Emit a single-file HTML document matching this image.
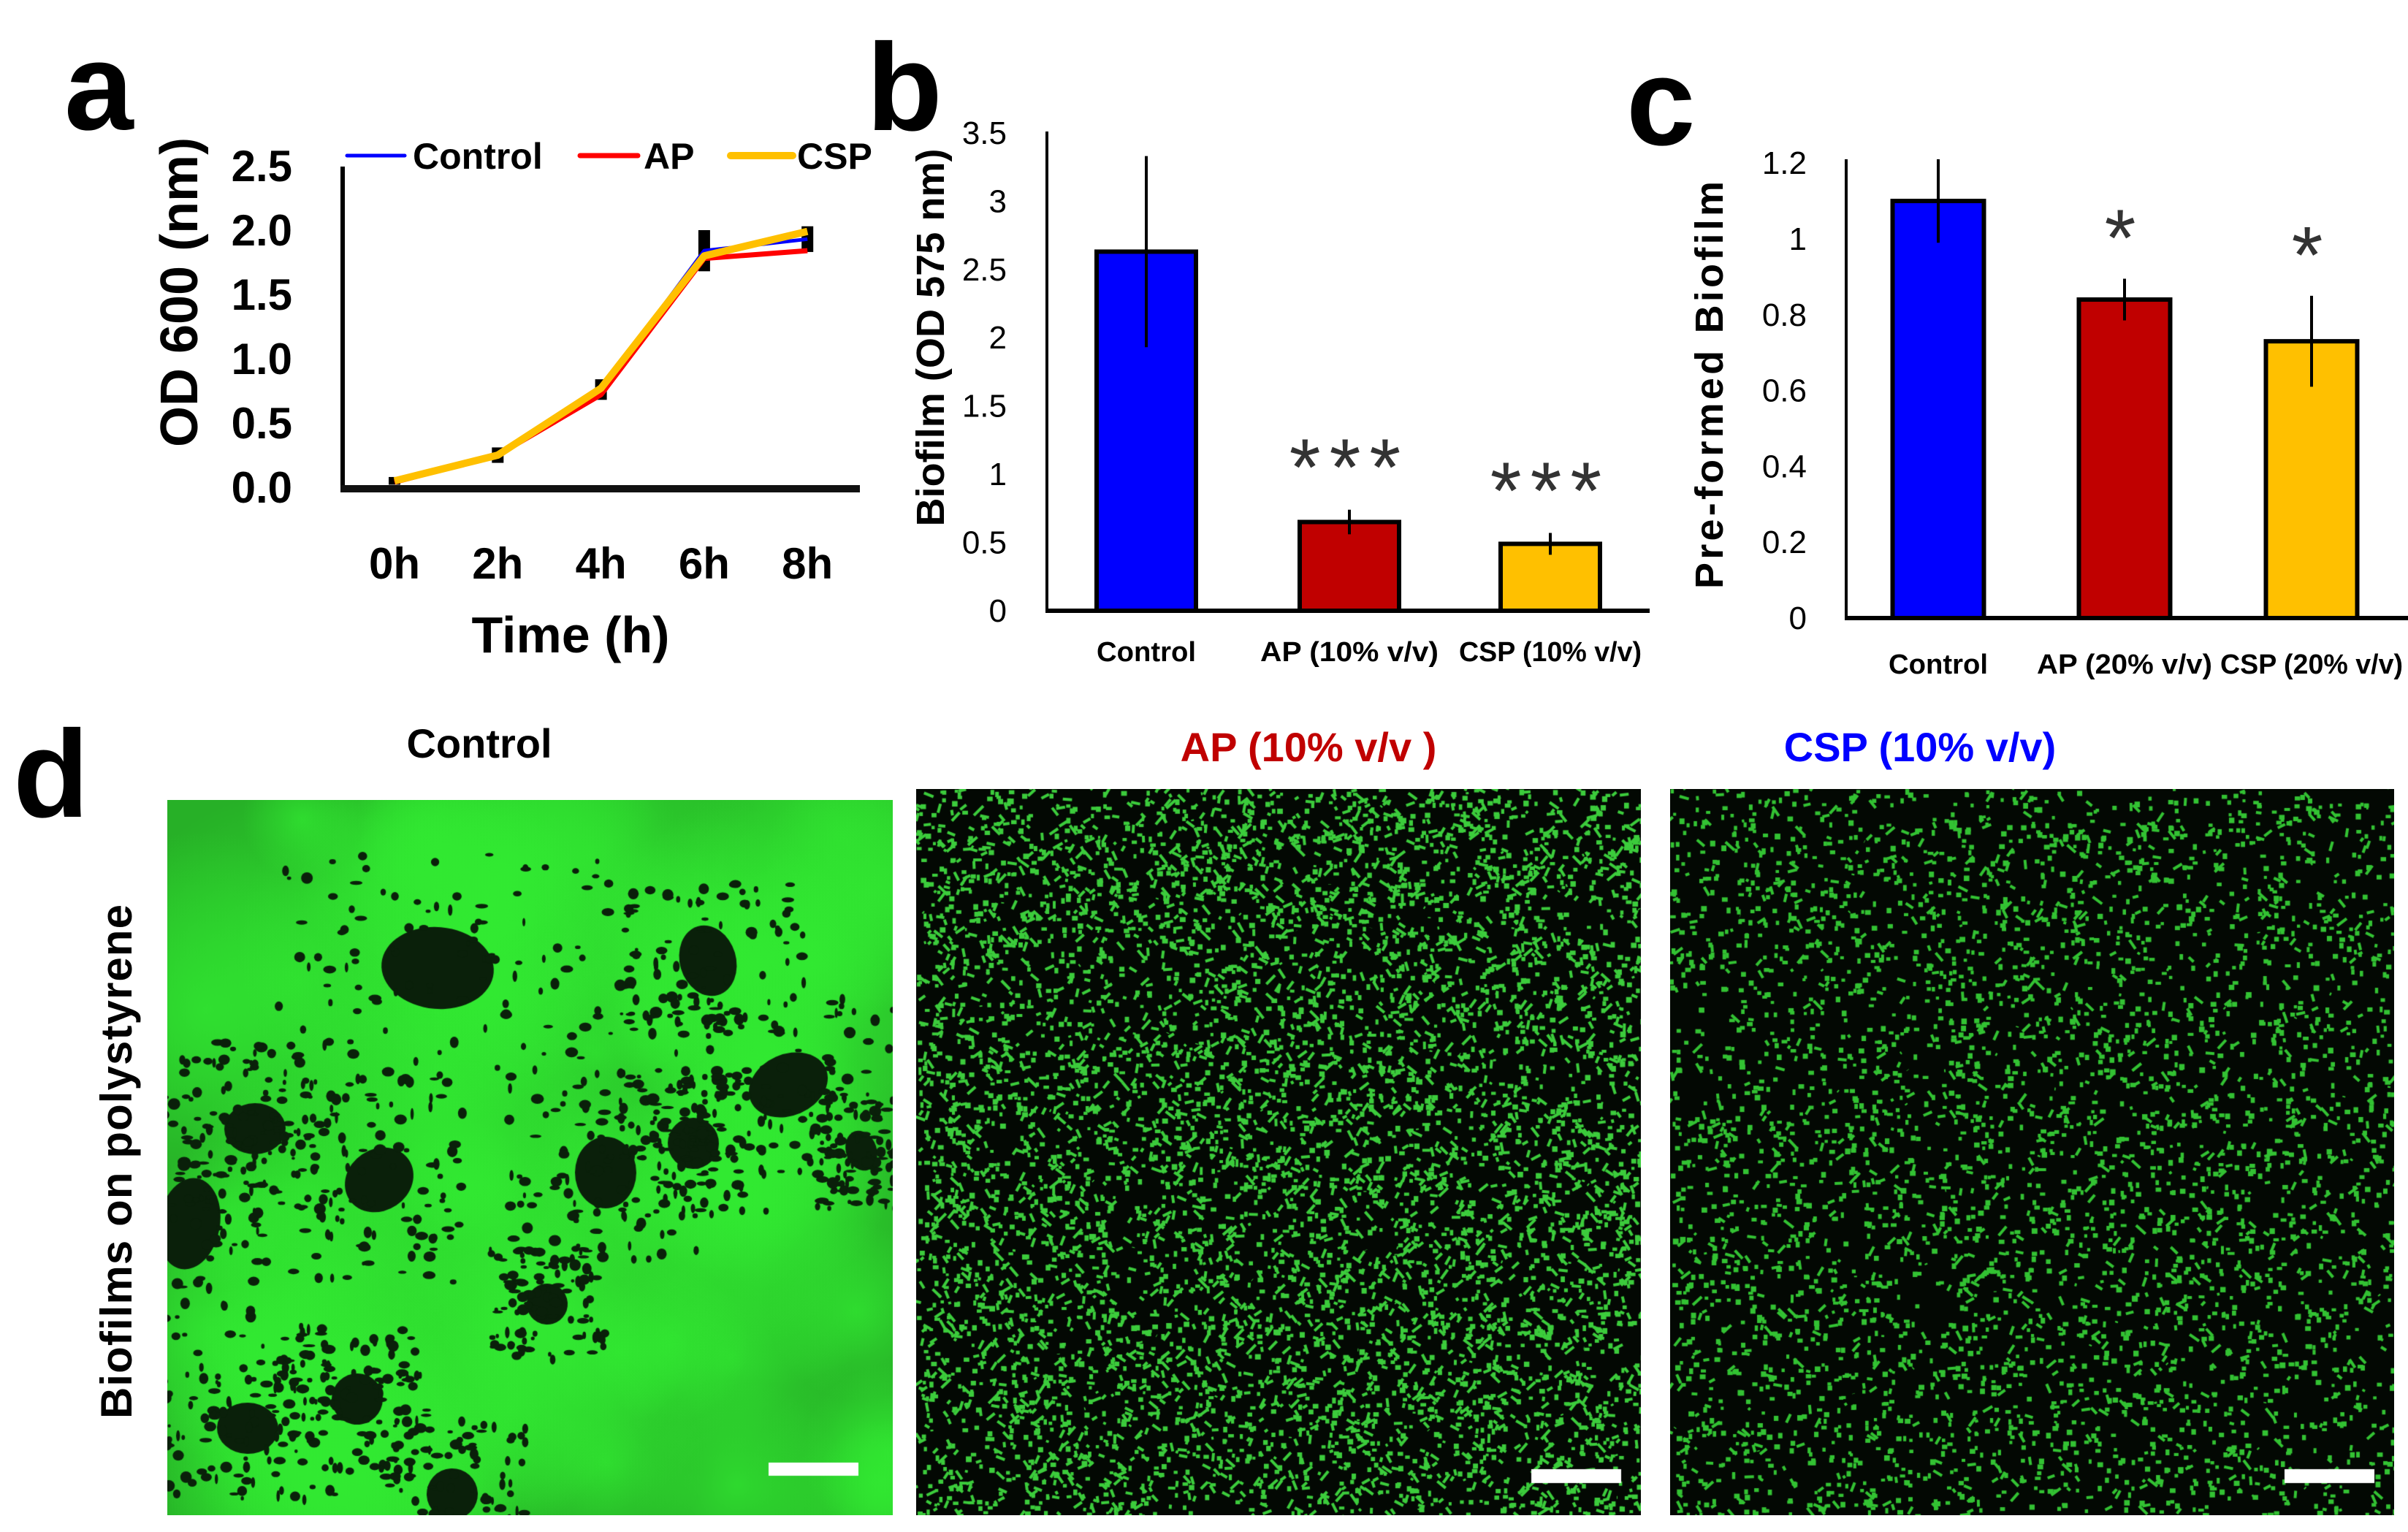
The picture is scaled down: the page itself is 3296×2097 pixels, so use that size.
<!DOCTYPE html>
<html><head><meta charset="utf-8">
<style>
html,body{margin:0;padding:0;background:#fff;}
#root{position:relative;width:3296px;height:2097px;overflow:hidden;background:#fff;font-family:"Liberation Sans",sans-serif;}
svg{position:absolute;left:0;top:0;}
canvas{position:absolute;}
</style></head>
<body>
<div id="root">
<canvas id="imgControl" style="left:229px;top:1095px" width="993" height="979"></canvas>
<canvas id="imgAP" style="left:1254px;top:1080px" width="992" height="994"></canvas>
<canvas id="imgCSP" style="left:2286px;top:1080px" width="991" height="994"></canvas>
<svg id="svg" width="3296" height="2097" font-family="Liberation Sans, sans-serif">
  <text x="88" y="177" font-size="170" font-weight="bold">a</text>
  <text x="1186" y="178" font-size="170" font-weight="bold">b</text>
  <text x="2226" y="198" font-size="170" font-weight="bold">c</text>
  <text x="18" y="1118" font-size="170" font-weight="bold">d</text>
  <text x="656" y="1037" font-size="56" font-weight="bold" text-anchor="middle">Control</text>
  <text x="1791" y="1042" font-size="56" font-weight="bold" text-anchor="middle" fill="#c00000">AP (10% v/v )</text>
  <text x="2628" y="1042" font-size="56" font-weight="bold" text-anchor="middle" fill="#0000ff">CSP (10% v/v)</text>
  <text transform="translate(180,1590) rotate(-90)" font-size="60" font-weight="bold" text-anchor="middle" textLength="704">Biofilms on polystyrene</text>
  <g id="gA"></g><g id="gB"></g><g id="gC"></g>
</svg>
</div>
<script>
// ---- Chart a data ----
const timeLabels = ["0h","2h","4h","6h","8h"];
const controlOD = [0.05,0.25,0.76,1.84,1.93];
const apOD = [0.04,0.25,0.72,1.78,1.84];
const cspOD = [0.05,0.25,0.77,1.80,1.99];
const odErr = [0.03,0.06,0.08,0.16,0.1];
const aTicks = [0,0.5,1.0,1.5,2.0,2.5];
// ---- Chart b data ----
const bCats = ["Control","AP  (10% v/v)","CSP  (10% v/v)"];
const bVals = [2.63,0.65,0.49];
const bErr = [0.7,0.09,0.08];
const bStars = ["","***","***"];
const bTicks = [0,0.5,1,1.5,2,2.5,3,3.5];
// ---- Chart c data ----
const cCats = ["Control","AP (20% v/v)","CSP (20% v/v)"];
const cVals = [1.10,0.84,0.73];
const cErr = [0.11,0.055,0.12];
const cStars = ["","*","*"];
const cTicks = [0,0.2,0.4,0.6,0.8,1,1.2];
const barColors = ["#0000ff","#c00000","#ffc000"];

const NS="http://www.w3.org/2000/svg";
function mk(parent,tag,attrs,text){const e=document.createElementNS(NS,tag);for(const k in attrs)e.setAttribute(k,attrs[k]);if(text!==undefined)e.textContent=text;parent.appendChild(e);return e;}

// Chart a
(function(){
  const g=document.getElementById('gA');
  const x=i=>540+i*141.3, y=v=>667-v*176;
  let e;
  e=mk(g,'line',{x1:469,y1:228,x2:469,y2:y(0),stroke:'#000','stroke-width':6});
  
  
  e=mk(g,'line',{x1:466,y1:y(0)+2,x2:1177,y2:y(0)+2,stroke:'#111','stroke-width':10});
  
  
  aTicks.forEach(t=>{e=mk(g,'text',{x:400,y:y(t)+21,'font-size':60,'font-weight':'bold','text-anchor':'end'},t.toFixed(1));
    
    });
  timeLabels.forEach((t,i)=>{e=mk(g,'text',{x:x(i),y:792,'font-size':60,'font-weight':'bold','text-anchor':'middle'},t);
    
    });
  e=mk(g,'text',{x:781,y:893,'font-size':70,'font-weight':'bold','text-anchor':'middle'},'Time (h)');
  
  
  e=mk(g,'text',{transform:'translate(270,400) rotate(-90)','font-size':72,'font-weight':'bold','text-anchor':'middle'},'OD 600 (nm)');
  
  
  controlOD.forEach((v,i)=>{e=mk(g,'rect',{x:x(i)-8,y:y(v+odErr[i]),width:16,height:odErr[i]*2*176,fill:'#000'});
    
    });
  const series=[[controlOD,'#0000ff',5,'control'],[apOD,'#ff0000',7,'ap'],[cspOD,'#ffc000',10,'csp']];
  series.forEach(s=>{e=mk(g,'polyline',{points:s[0].map((v,i)=>x(i)+','+y(v)).join(' '),fill:'none',stroke:s[1],'stroke-width':s[2],'stroke-linejoin':'round'});
    
    });
  const leg=[[475,554,565,'Control','#0000ff',5],[794,873,881,'AP','#ff0000',7],[1000,1085,1091,'CSP','#ffc000',10]];
  leg.forEach(l=>{e=mk(g,'line',{x1:l[0],y1:213,x2:l[1],y2:213,stroke:l[4],'stroke-width':l[5],'stroke-linecap':'round'});
    
    
    e=mk(g,'text',{x:l[2],y:231,'font-size':50,'font-weight':'bold'},l[3]);
    
    });
})();

function barChart(gid,pfx,cats,vals,errs,stars,ticks,o){
  const g=document.getElementById(gid);
  const y=v=>o.y0-v*o.k;
  let e;
  e=mk(g,'line',{x1:o.ax,y1:o.top,x2:o.ax,y2:o.y0,stroke:'#000','stroke-width':4});
  
  
  ticks.forEach(t=>{e=mk(g,'text',{x:o.tx,y:y(t)+15,'font-size':44,'text-anchor':'end'},String(t));
    
    });
  cats.forEach((c,i)=>{
    const cx=o.cx[i];
    e=mk(g,'rect',{x:cx-o.w/2,y:y(vals[i]),width:o.w,height:vals[i]*o.k,fill:barColors[i],stroke:'#000','stroke-width':6});
    
    
    e=mk(g,'line',{x1:cx,y1:y(vals[i]+errs[i]),x2:cx,y2:y(vals[i]-errs[i]),stroke:'#000','stroke-width':4});
    
    
    e=mk(g,'text',{x:cx,y:o.ly,'font-size':38,'font-weight':'bold','text-anchor':'middle',textLength:o.lw[i],lengthAdjust:'spacingAndGlyphs'},c);
    
    
    if(stars[i]){e=mk(g,'text',{x:cx,y:y(vals[i]+errs[i])-o.sg,'font-size':110,fill:'#333','text-anchor':'middle','letter-spacing':12},stars[i]);
      
      }
  });
  e=mk(g,'line',{x1:o.ax-2,y1:o.y0,x2:o.xr,y2:o.y0,stroke:'#000','stroke-width':6});
  
  
  e=mk(g,'text',{transform:'translate('+o.tt[0]+','+o.tt[1]+') rotate(-90)','font-size':54,'font-weight':'bold','text-anchor':'middle',textLength:o.tt[3]},o.tt[2]);
  
  
}
barChart('gB','b',bCats,bVals,bErr,bStars,bTicks,{ax:1433,top:180,y0:836,k:186.9,xr:2258,tx:1378,cx:[1569,1847,2122],w:136,ly:905,lw:[136,244,250],sg:20,tt:[1292,462,'Biofilm (OD 575 nm)',517]});
barChart('gC','c',cCats,cVals,cErr,cStars,cTicks,{ax:2527,top:218,y0:846,k:519,xr:3296,tx:2473,cx:[2653,2908,3164],w:125,ly:922,lw:[136,240,250],sg:18,tt:[2358,527,'Pre-formed Biofilm',558]});

// micrographs
function rng(s){return function(){s=(s*1664525+1013904223)>>>0;return s/4294967296;};}
(function(){
  const c=document.getElementById('imgControl'),ctx=c.getContext('2d'),r=rng(7);
  ctx.fillStyle='#27b027';ctx.fillRect(0,0,c.width,c.height);
  for(let i=0;i<60;i++){const x=r()*c.width,y=r()*c.height,rad=80+r()*200;
    const gr=ctx.createRadialGradient(x,y,0,x,y,rad);gr.addColorStop(0,'rgba(50,235,50,0.7)');gr.addColorStop(1,'rgba(50,235,50,0)');
    ctx.fillStyle=gr;ctx.fillRect(0,0,c.width,c.height);}
  const holes=[[370,230,110,80],[290,520,60,70],[120,450,50,60],[30,580,60,90],[600,510,70,60],[850,390,80,60],[740,220,70,55],[720,470,50,50],[110,860,60,50],[260,820,50,50],[390,950,50,50],[520,690,40,40],[950,480,30,40]];
  ctx.fillStyle='#0a200a';
  holes.forEach(h=>{ctx.beginPath();ctx.ellipse(h[0],h[1],h[2]*0.7,h[3]*0.7,r()*3,0,7);ctx.fill();});
  for(let i=0;i<1400;i++){const h=holes[i%holes.length];const x=h[0]+(r()-0.5)*h[2]*4,y=h[1]+(r()-0.5)*h[3]*4;
    ctx.beginPath();ctx.ellipse(x,y,2+r()*7,2+r()*6,0,0,7);ctx.fill();}
  ctx.fillStyle='#fff';ctx.fillRect(823,907,123,18);
})();
function dots(id,seed,n,col,len){
  const c=document.getElementById(id),ctx=c.getContext('2d'),r=rng(seed);
  ctx.fillStyle='#030803';ctx.fillRect(0,0,c.width,c.height);
  ctx.strokeStyle=col;ctx.fillStyle=col;ctx.lineWidth=4;
  for(let i=0;i<n;i++){const x=r()*c.width,y=r()*c.height;
    if(r()<len){ctx.beginPath();ctx.moveTo(x,y);ctx.lineTo(x+(r()-0.5)*26,y+(r()-0.5)*26);ctx.stroke();}
    else{ctx.fillRect(x,y,4+r()*4,4+r()*4);}}
  ctx.fillStyle='#fff';ctx.fillRect(c.width-150,931,123,19);
}
dots('imgAP',11,6500,'#3ccc3c',0.5);
dots('imgCSP',23,4200,'#33c233',0.25);
</script>
</body></html>
